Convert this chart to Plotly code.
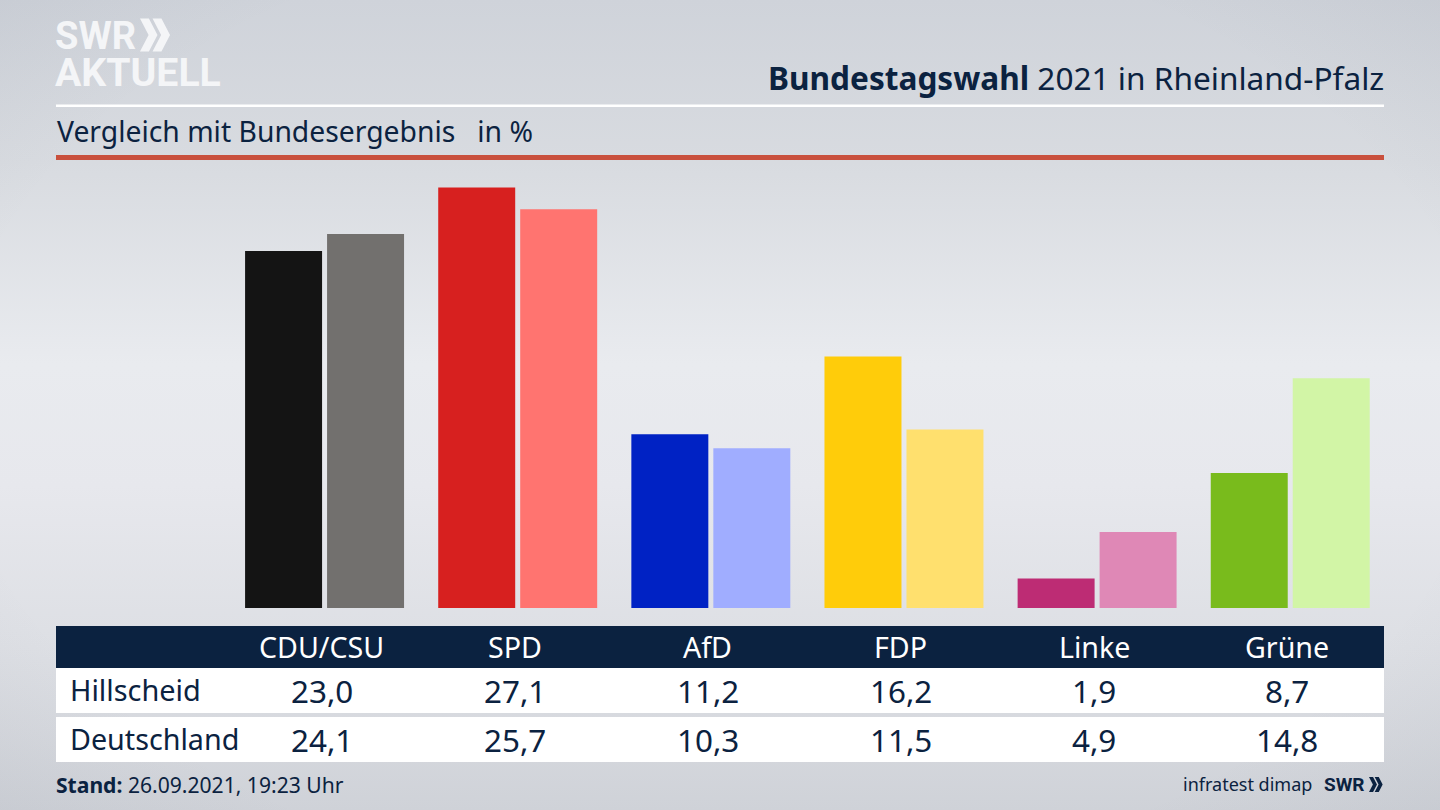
import plotly.graph_objects as go

# --- data ---
parties = ["CDU/CSU", "SPD", "AfD", "FDP", "Linke", "Grüne"]
hillscheid = [23.0, 27.1, 11.2, 16.2, 1.9, 8.7]
deutschland = [24.1, 25.7, 10.3, 11.5, 4.9, 14.8]
colors_local = ["#141414", "#d7201f", "#0022c4", "#ffcc0a", "#bd2c74", "#79bb1c"]
colors_federal = ["#72706e", "#ff7470", "#a0adff", "#ffe06e", "#df88b6", "#d2f5a6"]

W, H = 1440, 810
NAVY = "#0b2240"
FONT = "Noto Sans"
LOGO = "Roboto"


def px(x):
    return x / W


def py(y):
    return 1 - y / H


def rect(x0, y0, x1, y1, color):
    return dict(type="rect", xref="paper", yref="paper", x0=px(x0), x1=px(x1),
                y0=py(y1), y1=py(y0), fillcolor=color, line_width=0, layer="below")


def chevrons(x, y, h, color):
    """Two solid chevrons, as in the SWR logo."""
    w = h * 0.53
    t = h * 0.27
    out = []
    for dx in (0, h * 0.38):
        pts = [(x + dx, y), (x + dx + t, y), (x + dx + w, y + h / 2),
               (x + dx + t, y + h), (x + dx, y + h), (x + dx + w - t, y + h / 2)]
        path = "M " + " L ".join(f"{px(a):.5f},{py(b):.5f}" for a, b in pts) + " Z"
        out.append(dict(type="path", xref="paper", yref="paper", path=path,
                        fillcolor=color, line_width=0))
    return out


def text(x, y, s, size, color=NAVY, anchor="left", family=FONT, xref="paper", xshift=0):
    return dict(x=px(x) if xref == "paper" else x, y=py(y), xref=xref, yref="paper", text=s,
                showarrow=False, xanchor=anchor, yanchor="middle", align=anchor, xshift=xshift,
                borderpad=0, borderwidth=0, font=dict(family=family, size=size, color=color))


def fmt(v):
    return f"{v:.1f}".replace(".", ",")


fig = go.Figure()
fig.add_bar(name="Hillscheid", x=parties, y=hillscheid, marker_color=colors_local, marker_line_width=0)
fig.add_bar(name="Deutschland", x=parties, y=deutschland, marker_color=colors_federal, marker_line_width=0)

shapes = [
    rect(56, 104.5, 1384, 107, "#ffffff"),
    rect(56, 155, 1384, 160, "#c9503d"),
    rect(56, 626, 1384, 668, NAVY),
    rect(56, 668, 1384, 713, "#ffffff"),
    rect(56, 717, 1384, 762, "#ffffff"),
]
shapes += chevrons(140, 18.5, 33, "#f4f5f7")
shapes += chevrons(1369, 777, 15, NAVY)

ann = [
    text(55, 35.5, "<b>SWR</b>", 38, "#f4f5f7", family=LOGO),
    text(55, 73, "<b>AKTUELL</b>", 39.2, "#f4f5f7", family=LOGO),
    text(1384, 77, "<b>Bundestagswahl</b> 2021 in Rheinland-Pfalz", 31.6, anchor="right"),
    text(57, 131, "Vergleich mit Bundesergebnis   in %", 28.3),
    text(70, 689.5, "Hillscheid", 28.9),
    text(70, 738.5, "Deutschland", 28.7),
    text(56, 784, "<b>Stand:</b> 26.09.2021, 19:23 Uhr", 21.1),
    text(1312, 784, "infratest dimap", 18, anchor="right"),
    text(1324, 784.5, "<b>SWR</b>", 19, family=LOGO),
]
for p, a, b in zip(parties, hillscheid, deutschland):
    ann.append(text(p, 646, p, 28.6, "#ffffff", "center", xref="x", xshift=-3))
    ann.append(text(p, 690, fmt(a), 31.4, NAVY, "center", xref="x", xshift=-3))
    ann.append(text(p, 739, fmt(b), 31.4, NAVY, "center", xref="x", xshift=-3))

left, right = 228, 1386.8
bottom, top = 608, 170
fig.update_layout(
    width=W, height=H, margin=dict(l=0, r=0, t=0, b=0), autosize=False,
    paper_bgcolor="rgba(0,0,0,0)", plot_bgcolor="rgba(0,0,0,0)",
    barmode="group", bargap=0.151, bargroupgap=0.061, showlegend=False,
    shapes=shapes, annotations=ann, font=dict(family=FONT, color=NAVY),
    xaxis=dict(domain=[px(left), px(right)], showticklabels=False, showgrid=False,
               zeroline=False, showline=False, ticks="", fixedrange=True),
    yaxis=dict(domain=[py(bottom), py(top)], range=[0, (bottom - top) / 15.52], showticklabels=False,
               showgrid=False, zeroline=False, showline=False, ticks="", fixedrange=True),
)

bg = ("document.body.style.margin='0';document.body.style.overflow='hidden';"
      "document.documentElement.style.height='100%';"
      "document.body.style.background='radial-gradient(ellipse 75% 85% at 50% 50%,rgba(60,70,90,0) 70%,rgba(60,70,90,.07) 100%),"
      "linear-gradient(180deg,#cfd3da 0%,#d8dbe0 20%,#e9ebef 45%,#e7e8ed 60%,#dddfe4 80%,#cfd2d8 100%)';"
      "document.body.style.minHeight='810px';")
fig.write_html("out.html", post_script=bg, config=dict(displayModeBar=False))
